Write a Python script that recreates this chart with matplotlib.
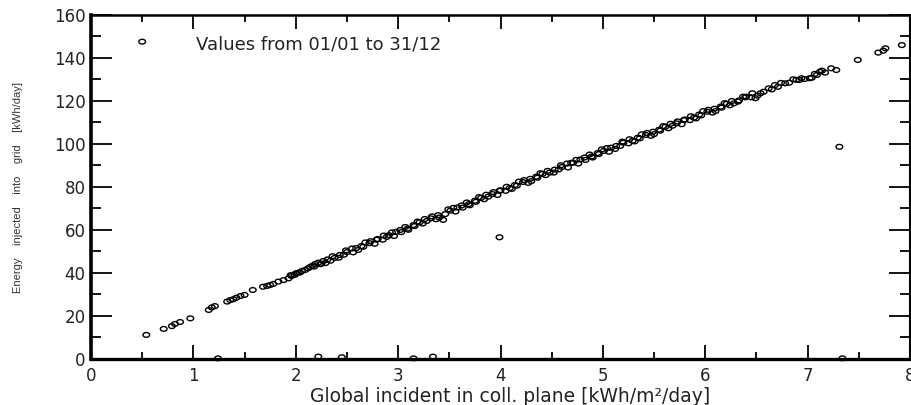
import matplotlib
matplotlib.use("Agg")
import matplotlib.pyplot as plt
from matplotlib.path import Path
from matplotlib.transforms import Affine2D
from matplotlib.ticker import MultipleLocator

plt.rcParams["font.family"] = ["DejaVu Sans"]

# Daily values: global incident irradiation [kWh/m2/day] vs energy injected [kWh/day]
irr = [
    0.54, 0.71, 0.79, 0.82, 0.87, 0.97, 1.15, 1.18, 1.21, 1.33, 1.36, 1.39, 1.42,
    1.46, 1.50, 1.58, 1.68, 1.72, 1.75, 1.78, 1.83, 1.88, 1.93, 1.95, 1.96, 1.99,
    2.00, 2.02, 2.04, 2.06, 2.09, 2.12, 2.14, 2.16, 2.18, 2.19, 2.22, 2.24, 2.25,
    2.27, 2.29,
    2.31, 2.34, 2.36, 2.38, 2.42, 2.43, 2.47, 2.49, 2.50, 2.55, 2.56, 2.59,
    2.61, 2.64, 2.66, 2.68, 2.72, 2.73, 2.77, 2.79, 2.80, 2.85, 2.86, 2.89,
    2.91, 2.94, 2.96, 2.98, 3.02, 3.03, 3.07, 3.09, 3.10, 3.15, 3.16, 3.19,
    3.21, 3.24, 3.26, 3.28, 3.32, 3.33, 3.37, 3.39, 3.40, 3.44, 3.46, 3.49,
    3.51, 3.54, 3.56, 3.58, 3.62, 3.63, 3.67, 3.69, 3.70, 3.75, 3.76, 3.79,
    3.81, 3.84, 3.86, 3.88, 3.92, 3.93, 3.97, 3.99, 4.00, 4.05, 4.06, 4.09,
    4.11, 4.14, 4.16, 4.18, 4.22, 4.23, 4.27, 4.29, 4.30, 4.35, 4.36, 4.39,
    4.41, 4.44, 4.46, 4.48, 4.52, 4.53, 4.57, 4.59, 4.60, 4.65, 4.66, 4.69,
    4.71, 4.74, 4.76, 4.78, 4.82, 4.83, 4.87, 4.89, 4.90, 4.95, 4.96, 4.99,
    5.01, 5.04, 5.06, 5.08, 5.12, 5.13, 5.17, 5.19, 5.20, 5.25, 5.26, 5.29,
    5.31, 5.34, 5.36, 5.38, 5.42, 5.43, 5.47, 5.49, 5.50, 5.55, 5.56, 5.59,
    5.61, 5.64, 5.66, 5.68, 5.72, 5.73, 5.77, 5.79, 5.80, 5.85, 5.86, 5.89,
    5.91, 5.94, 5.96, 5.98, 6.02, 6.03, 6.07, 6.09, 6.10, 6.15, 6.16, 6.19,
    6.21, 6.24, 6.26, 6.28, 6.32, 6.33, 6.37, 6.39, 6.40, 6.45, 6.46, 6.49,
    6.51, 6.54, 6.57, 6.62, 6.65, 6.68, 6.71, 6.74, 6.78, 6.82, 6.86, 6.89,
    6.92, 6.94, 6.97, 7.02, 7.04, 7.07, 7.09, 7.12, 7.14, 7.17, 7.23, 7.28,
    7.49, 7.69, 7.74, 7.76, 7.92,
    # outliers
    0.50, 3.99, 7.31, 1.24, 2.22, 2.45, 3.15, 3.34, 7.34,
]
e_grid = [
    11.2, 14.0, 15.3, 16.3, 17.2, 18.9, 22.8, 24.0, 24.6, 26.7, 27.4, 27.8, 28.5,
    29.3, 29.8, 32.1, 33.6, 34.0, 34.4, 34.9, 36.0, 36.7, 37.5, 39.0, 38.6, 39.1,
    39.8, 40.1, 40.2, 40.9, 41.4, 42.2, 42.8, 43.3, 43.0, 44.2, 44.8, 44.1, 44.3,
    45.6, 44.6,
    46.3, 45.7, 47.8, 47.0, 47.1, 48.4, 48.5, 50.5, 49.7, 51.4, 49.6, 51.6,
    50.7, 52.5, 52.2, 54.2, 53.9, 54.8, 53.6, 55.5, 55.8, 55.5, 57.4, 56.8,
    57.6, 58.9, 57.2, 59.1, 60.0, 59.0, 61.4, 60.6, 60.1, 62.3, 61.8, 63.9,
    63.6, 63.0, 65.1, 64.2, 65.4, 66.3, 65.0, 66.9, 65.8, 64.7, 67.4, 69.6,
    69.0, 70.3, 68.6, 70.5, 71.4, 70.4, 72.8, 72.0, 71.5, 73.6, 73.1, 75.3,
    74.9, 74.3, 76.4, 75.5, 76.7, 77.6, 76.3, 78.2, 78.5, 78.2, 80.1, 79.5,
    79.1, 80.9, 80.6, 82.5, 82.3, 83.2, 81.9, 83.8, 82.7, 84.8, 84.3, 86.4,
    86.1, 85.5, 87.5, 86.7, 86.7, 88.1, 88.2, 90.1, 89.3, 90.9, 89.1, 91.2,
    91.3, 92.6, 90.9, 92.8, 93.7, 92.6, 95.1, 94.2, 93.7, 95.8, 95.3, 97.5,
    96.8, 98.1, 96.4, 98.3, 97.7, 99.1, 99.1, 101.1, 100.6, 100.3, 102.2, 101.5,
    101.2, 102.9, 102.6, 104.5, 104.2, 105.1, 103.8, 105.7, 104.6, 106.7, 106.2, 108.3,
    108.0, 107.3, 109.4, 108.5, 109.6, 110.5, 109.2, 111.1, 111.4, 111.1, 112.9, 112.3,
    111.9, 113.7, 113.3, 115.3, 115.0, 115.9, 114.6, 116.4, 115.3, 117.4, 116.9, 119.0,
    118.7, 118.0, 120.0, 118.9, 119.7, 120.3, 122.0, 121.7, 122.0, 121.7, 123.6, 121.3,
    122.5, 123.6, 124.3, 125.9, 125.4, 127.4, 126.6, 128.4, 128.2, 128.5, 130.1, 129.8,
    129.8, 130.6, 130.2, 130.6, 130.8, 132.6, 132.1, 133.6, 134.1, 133.2, 135.2, 134.4,
    139.1, 142.5, 143.4, 144.5, 146.0,
    # outliers
    147.6, 56.6, 98.7, 0.3, 1.1, 0.8, 0.3, 1.1, 0.3,
]

x_ticks = [0, 1, 2, 3, 4, 5, 6, 7, 8]
y_ticks = [0, 20, 40, 60, 80, 100, 120, 140, 160]

# the source image is stretched sideways, so the "circles" are flat ellipses
oval = Path.unit_circle().transformed(Affine2D().scale(1.4, 1.0))

fig = plt.figure(figsize=(9.12, 4.05), dpi=100)
ax = fig.add_axes([0.0998, 0.1136, 0.8980, 0.8494])

ax.scatter(irr, e_grid, s=23, marker=oval, facecolors="none", edgecolors="black",
           linewidths=1.0, clip_on=False, zorder=3)

ax.set_xlim(0, 8)
ax.set_ylim(0, 160)
ax.set_xticks(x_ticks)
ax.set_yticks(y_ticks)
ax.xaxis.set_minor_locator(MultipleLocator(0.5))
ax.yaxis.set_minor_locator(MultipleLocator(10))

ax.tick_params(axis="both", which="both", direction="in", top=True, right=True,
               labelright=False, labeltop=False, colors="black", labelsize=12)
ax.tick_params(axis="x", which="major", length=10, width=1.3, pad=6)
ax.tick_params(axis="x", which="minor", length=5, width=1.3)
ax.tick_params(axis="y", which="major", length=15, width=1.3, pad=4)
ax.tick_params(axis="y", which="minor", length=7.5, width=1.3)
for lab in ax.get_xticklabels() + ax.get_yticklabels():
    lab.set_color("#222222")

ax.spines["left"].set_linewidth(2.6)
ax.spines["bottom"].set_linewidth(2.4)
ax.spines["top"].set_linewidth(1.8)
ax.spines["right"].set_linewidth(1.5)

ax.set_xlabel("Global incident in coll. plane [kWh/m²/day]", fontsize=13.5,
              color="#222222", labelpad=1)
ax.xaxis.label.set_x(0.512)
fig.text(0.02, 0.538, "Energy    injected    into    grid    [kWh/day]",
         rotation=90, ha="center", va="center", fontsize=8, color="#333333",
         family=["Liberation Sans Narrow", "Liberation Sans", "DejaVu Sans"])

ax.text(1.03, 146.5, "Values from 01/01 to 31/12", fontsize=13,
        color="#222222", ha="left", va="center")

fig.savefig("out.png", dpi=100, facecolor="white")
